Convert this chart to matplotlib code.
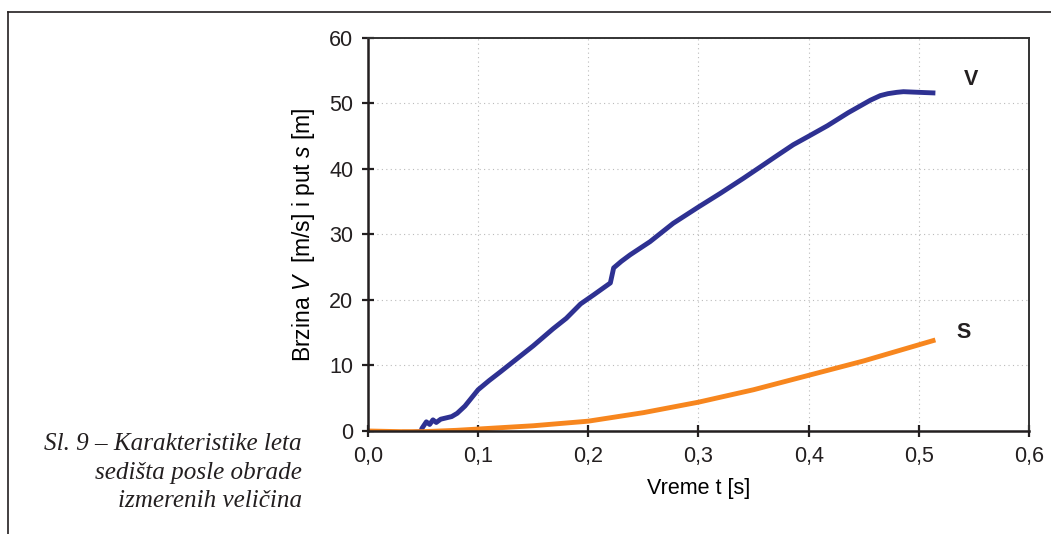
import matplotlib.pyplot as plt
from matplotlib.lines import Line2D

plt.rcParams['font.family'] = ['Liberation Sans', 'DejaVu Sans']
plt.rcParams['mathtext.fontset'] = 'custom'
plt.rcParams['mathtext.rm'] = 'Liberation Sans'
plt.rcParams['mathtext.it'] = 'Liberation Sans:italic'

# brzina V [m/s], ocitano sa slike
t_v = [0.031, 0.040, 0.048, 0.049, 0.053, 0.056, 0.059, 0.062, 0.066, 0.071,
       0.076, 0.081, 0.088, 0.1, 0.11, 0.12, 0.138, 0.15, 0.168, 0.18, 0.193,
       0.205, 0.22, 0.223, 0.23, 0.238, 0.256, 0.277, 0.3, 0.32, 0.341, 0.356,
       0.37, 0.386, 0.40, 0.417, 0.436, 0.456, 0.465, 0.472, 0.48, 0.486,
       0.5, 0.515]
v = [-0.2, -0.2, -0.1, 0.4, 1.4, 1.0, 1.7, 1.3, 1.8, 2.0,
     2.2, 2.7, 3.8, 6.3, 7.7, 9.0, 11.4, 13.0, 15.6, 17.2, 19.4,
     20.8, 22.6, 24.9, 25.9, 26.9, 28.9, 31.7, 34.2, 36.3, 38.6, 40.3,
     41.9, 43.7, 45.0, 46.6, 48.6, 50.5, 51.2, 51.5, 51.7, 51.8,
     51.7, 51.6]

# put s [m]
t_s = [0.0, 0.03, 0.05, 0.08, 0.1, 0.15, 0.2, 0.25, 0.3, 0.35, 0.4, 0.45, 0.515]
s = [0.0, -0.1, -0.1, 0.1, 0.3, 0.8, 1.5, 2.8, 4.4, 6.3, 8.5, 10.7, 13.9]

x_ticks = [0.0, 0.1, 0.2, 0.3, 0.4, 0.5, 0.6]
y_ticks = [0, 10, 20, 30, 40, 50, 60]

fig = plt.figure(figsize=(10.51, 5.34), dpi=100)
ax = fig.add_axes([0.3501, 0.1929, 0.6290, 0.7360])

ax.plot(t_v, v, color='#2E3192', linewidth=3.5, solid_capstyle='butt')
ax.plot(t_s, s, color='#F7861E', linewidth=3.5, solid_capstyle='butt')

ax.text(0.547, 53.6, 'V', fontsize=15.5, fontweight='bold', ha='center', va='center', color='#231F20')
ax.text(0.541, 15.0, 'S', fontsize=15.5, fontweight='bold', ha='center', va='center', color='#231F20')

ax.set_xlim(0, 0.6)
ax.set_ylim(0, 60)
ax.set_xticks(x_ticks)
ax.set_xticklabels([('%.1f' % x).replace('.', ',') for x in x_ticks])
ax.set_yticks(y_ticks)
ax.tick_params(direction='inout', length=9, width=1.6, labelsize=15.5,
               colors='#231F20', pad=6)
ax.grid(True, linestyle=(0, (1, 3)), color='#BBBBBB', linewidth=0.8)
for side in ['left', 'bottom']:
    ax.spines[side].set_linewidth(1.8)
    ax.spines[side].set_color('#231F20')
for side in ['top', 'right']:
    ax.spines[side].set_linewidth(1.4)
    ax.spines[side].set_color('#333333')

ax.set_xlabel('Vreme t [s]', fontsize=15.5, labelpad=8)
ax.set_ylabel('Brzina $\\it{V}$  [m/s] i put $\\it{s}$ [m]', fontsize=16.5, labelpad=9)

# okvir slike
fig.add_artist(Line2D([8 / 1051, 8 / 1051], [0, 1 - 12 / 534], color='#231F20', linewidth=1.2))
fig.add_artist(Line2D([8 / 1051, 1], [1 - 12 / 534, 1 - 12 / 534], color='#231F20', linewidth=1.2))

# natpis
caption = ['Sl. 9 \u2013 Karakteristike leta', 'sedi\u0161ta posle obrade', 'izmerenih veli\u010dina']
for i, line in enumerate(caption):
    fig.text(302 / 1051, 1 - (450 + i * 28.5) / 534, line, fontsize=18.1,
             family='Liberation Serif', style='italic', ha='right', va='baseline',
             color='#231F20')

fig.savefig('out.png', dpi=100)
